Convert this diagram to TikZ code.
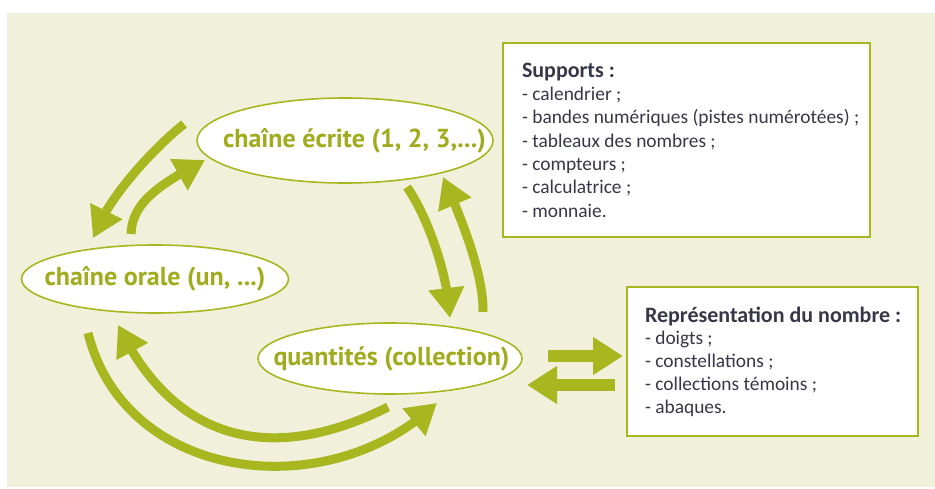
\documentclass[tikz,border=0pt]{standalone}
\usepackage{fontspec}
\setmainfont{Carlito}
\newfontfamily\ellfont{PT Sans}
\usetikzlibrary{shapes.geometric,arrows.meta,bending}
\definecolor{lgreen}{RGB}{168,182,32}
\definecolor{ltext}{RGB}{160,172,30}
\definecolor{cream}{RGB}{240,240,219}
\definecolor{boxtext}{RGB}{55,55,72}
\begin{document}
\begin{tikzpicture}[x=1pt,y=-1pt,
  ell/.style={ellipse, draw=lgreen, line width=1.6pt, fill=white, inner sep=0pt,
    font=\ellfont\bfseries\fontsize{26}{29}\selectfont, text=ltext},
  infobox/.style={rectangle, draw=lgreen, line width=2pt, fill=white, inner sep=0pt, text=boxtext},
  carr/.style={draw=lgreen, line width=9pt, -{Triangle[length=30pt,width=34pt,flex]}},
  sarr/.style={draw=lgreen, line width=12pt, -{Triangle[length=30pt,width=36pt]}}]
\useasboundingbox (0,0) rectangle (935,489);
\fill[white] (0,0) rectangle (935,489);
\fill[cream] (7,13) rectangle (935,487);

% ellipses
\node[ell, minimum width=296pt, minimum height=85pt] (ecrite) at (345,140.5)
  {\makebox[0pt]{\hspace{19pt}chaîne écrite (1, 2, 3,...)}};
\node[ell, minimum width=267pt, minimum height=68pt] (orale) at (155,279)
  {\makebox[0pt]{chaîne orale (un, ...)}};
\node[ell, minimum width=264pt, minimum height=71pt] (quant) at (390,358.5)
  {\makebox[0pt]{\hspace{3pt}quantités (collection)}};

% boxes
\node[infobox, minimum width=367pt, minimum height=194pt] (supports) at (686.5,140)
  {\hspace*{9pt}\begin{minipage}{338pt}\raggedright\fontsize{19.4}{23.3}\selectfont
   {\fontsize{22}{23}\selectfont\bfseries Supports :}\\
   - calendrier ;\\
   - bandes numériques (pistes numérotées) ;\\
   - tableaux des nombres ;\\
   - compteurs ;\\
   - calculatrice ;\\
   - monnaie.
   \end{minipage}};
\node[infobox, minimum width=291pt, minimum height=149pt] (repr) at (772.5,361.5)
  {\hspace*{8pt}\begin{minipage}{263pt}\raggedright\fontsize{19.4}{22.8}\selectfont
   {\fontsize{22}{23}\selectfont\bfseries Représentation du nombre :}\\
   - doigts ;\\
   - constellations ;\\
   - collections témoins ;\\
   - abaques.
   \end{minipage}};

% connector end points
\coordinate (aS) at (184,124);   \coordinate (aE) at (93,238);
\coordinate (bS) at (131,234);   \coordinate (bE) at (205,160);
\coordinate (cS) at (407,187);   \coordinate (cE) at (450,318);
\coordinate (dS) at (483,312);   \coordinate (dE) at (443,177);
\coordinate (eS) at (88,333);    \coordinate (eE) at (437,403);
\coordinate (fS) at (388,407);   \coordinate (fE) at (118,325);
\coordinate (gS) at (548,356);   \coordinate (gE) at (623,356);
\coordinate (hS) at (615,385);   \coordinate (hE) at (527,385);

% curved arrows
\draw[carr] (aS) .. controls (154,148) and (107,198) .. (aE);
\draw[carr] (bS) .. controls (132,200) and (165,182) .. (bE);
\draw[carr] (cS) .. controls (427,216) and (448,273) .. (cE);
\draw[carr] (dS) .. controls (484,275) and (461,217) .. (dE);
\draw[carr] (eS) .. controls (125.5,483) and (329,506.5) .. (eE);
\draw[carr] (fS) .. controls (272,465.5) and (174,442) .. (fE);

% straight arrows
\draw[sarr] (gS) -- (gE);
\draw[sarr] (hS) -- (hE);
\end{tikzpicture}
\end{document}
